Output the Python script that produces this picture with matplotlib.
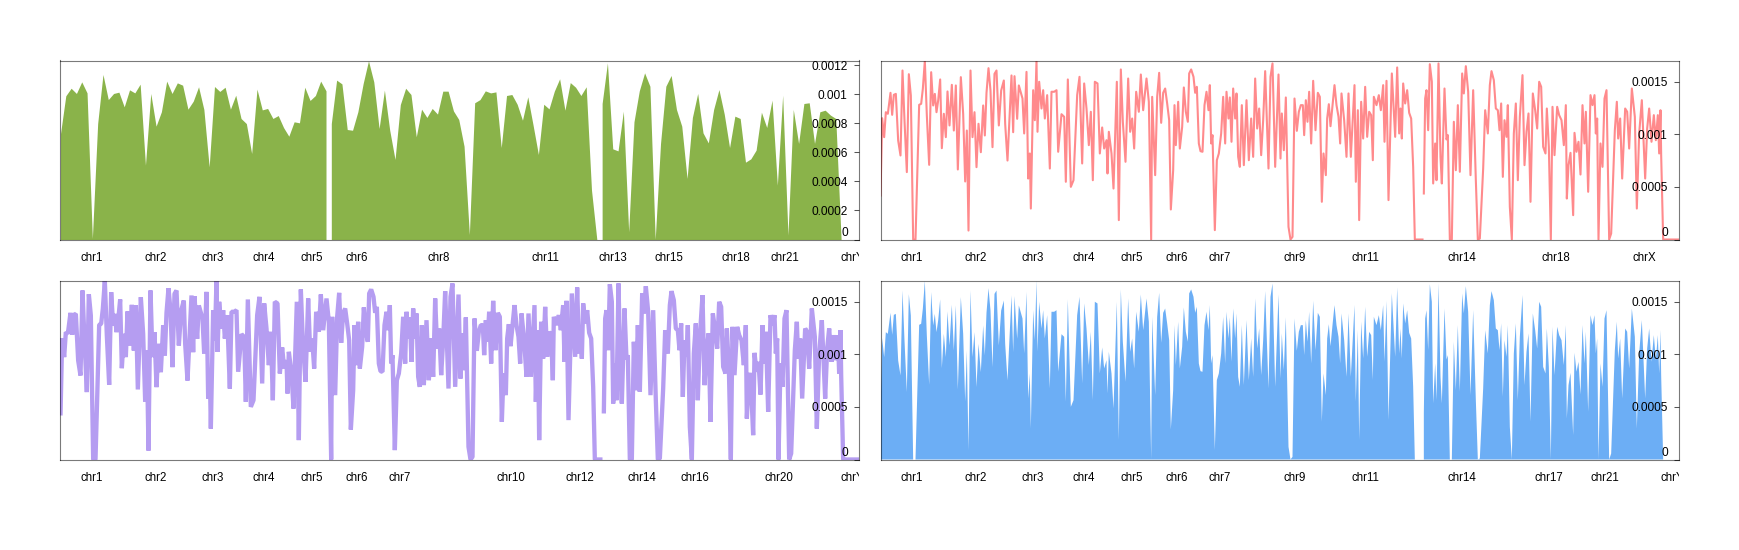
import numpy as np
import matplotlib
matplotlib.use("Agg")
import matplotlib.pyplot as plt
from matplotlib.transforms import Bbox, TransformedBbox

plt.rcParams['font.family'] = ['Liberation Sans', 'DejaVu Sans']

# ---- data: positions are genome bins along a 0..2397 axis, values are per-bin fractions (x 1e-6)
GENOME_END = 2397
BIN_COARSE = 15.93

coarse_a = [729,989,1041,1005,1085,1009,7,798,1136,963,1005,1014,913,1030,1009,1069,512,1005,780,879,
            1090,1005,1078,1062,897,952,1051,895,500,1053,1019,1048,897,993,833,798,592,1035,892,902,
            833,853,771,711,810,803,1048,957,991,1090,1023]
coarse_b = [798,1097,1071,757,752,879,1074,1230,1085,764,1028,752,551,929,1041,998,707,897,840,902,
            863,1021,1021,885,826,642,34,941,963,1023,1009,1016,633,991,998,931,821,982,787,585,
            931,899,1021,1106,890,1080,1048,991,1051,340,2]
coarse_c = [936,1216,624,610,883,53,810,1023,1147,1055,2,661,1055,1129,895,780,420,840,1005,734,
            665,895,1032,863,633,849,833,532,555,615,876,771,959,374,993,30,895,661,936,941,
            661,879,890,856,833,7]

pos_a = [0,5,11,16,22,30,35,40,46,53,60,66,72,79,85,91,98,105,111,116,122,127,133,139,146,152,158,163,168,173,
         179,184,190,196,201,207,214,220,226,232,241,248,254,259,264,270,276,282,288,294,301,308,313,318,324,330,336,342,348,355,
         362,370,374,381,393,398,402,410,415]
val_a = [418,1152,972,1209,1194,1393,1184,1374,1383,940,798,1605,1130,640,1570,1368,0,0,703,1279,1289,1431,1697,1178,709,1589,1273,1383,1209,1320,
         1520,867,1194,972,1406,1083,1469,1035,1463,665,1542,1194,551,1035,85,1605,972,1209,687,1099,829,1273,988,1393,1627,1415,877,1573,1605,1083,
         1415,1510,1099,750,1558,1019,1551,1146,1463]

pos_b = [426,431,438,443,448,451,458,463,468,471,476,483,488,493,500,508,513,521,528,533,
         543,551,556,562,571,579,590,597,605,611,618,625,631,637,643,651,658,665,671,678,
         681,685,693,699,709,715,721,727,735,743,749,755,761,767,775,781,788,798,805]
val_b = [1339,1007,1592,579,817,294,1418,1133,1700,1023,1498,1244,1418,1149,1371,674,1403,1403,1418,833,
         1190,1165,548,1520,500,563,1371,1545,722,1482,1244,896,1213,563,1498,1482,817,1064,864,943,
         627,1023,817,484,1498,184,1615,1118,738,1529,1023,1149,864,1403,1213,1567,1228,1529,1308]

step_c_x = [4,7,16,22,28,34,40,46,52,58,63,70,74,78,85,90,97,102,108,114,118,124,131,136,141,147,152,158,164,170,
            176,180,184,188,195,201,207,214,220,226,230,236,240,245,250,256,260,265,270,276,282,290,297,304,310,316,322,328,334,340,
            346,356,362,368,376,386,392,396,402,408,416,422,428,434,441,447,453,459,463,468,473,478,484,490,497,504,510,516,521,528,
            532,537,542,548,554,560,566,571,575,583,590,596,603,614,618,624,628,634,640,646,652,658,664,669,672,680,687,693,700,704,
            710,716,726,736,742,748,752,756,760,766,772,778,784,790,795,800,806,812,818,820,822,826,830,835,840,846,850,856,860,866,
            872,876,884,890,894,900,906,912,918,924,930,937,942,948,955,962,970,978,984,990,1000,1006,1014,1020,1025,1032,1038,1044,1049,1054,
            1059,1064,1070,1074,1080,1086,1092,1098,1104,1110,1118,1124,1130,1136]
val_c = [0,1355,611,1355,1583,1108,1393,1434,1292,1133,285,658,1276,896,1308,864,1070,1444,1213,1118,1577,1615,1545,1393,1450,912,839,833,1276,1403,
         1228,1466,912,991,89,753,817,1007,1355,912,1403,1149,1349,928,1434,1149,1387,785,690,1276,706,1323,753,1149,785,1529,1054,1244,801,1133,
         1599,674,1545,1672,690,1567,769,1197,848,1349,120,0,25,1339,1032,1213,1276,1276,991,1323,1118,1403,912,1507,1038,1393,1355,358,817,611,
         1149,1285,1076,1276,1466,1276,1165,912,1387,1133,785,1387,785,1466,548,1228,184,1308,959,1450,975,1213,1181,753,1355,1276,1371,1228,1466,928,
         1507,374,1577,975,1634,1007,1244,959,1482,1292,1418,1203,1149,690,0,0,0,0,0,np.nan,437,1339,1418,1038,1665,1498,532,912,563,1672,
         785,532,1434,950,991,0,0,1118,658,1276,643,1577,1387,1646,1403,611,1418,563,0,9,674,1228,1007,1466,1599,1513,1244,1228,1038,1292,
         595,1133,975,1276,310,0,1007,1292,563,1165,1561,706,1023,1197]
OFFSET_C = 808

step_d_x = [92,99,106,112,118,124,130,137,141,147,153,158,164,172,178,185,192,198,201,206,212,220,224,230,236,242,248,254,258,265,
            272,278,284,288,292,296,302,308,314,320,328,334,345,351,355,361,367,376,382,388,396,405,411,418,426,436,442,448,455,462,
            468,474,478,482,484,490,539]
val_d = [358,1387,1228,1054,1498,1450,880,817,1244,880,0,1260,801,1260,1181,1133,896,1276,389,706,823,231,1013,833,928,617,1276,912,1213,453,
         1371,1276,1371,1007,1149,0,912,690,1339,1418,0,57,1038,1308,959,1149,579,1244,1213,864,1434,1165,294,1007,1323,579,1054,1244,928,1181,
         943,1181,817,1228,801,0,0]
OFFSET_D = 1858

ticks_tl = ['chr1','chr2','chr3','chr4','chr5','chr6','chr8','chr11','chr13','chr15','chr18','chr21','chrY']
ticks_tr = ['chr1','chr2','chr3','chr4','chr5','chr6','chr7','chr9','chr11','chr14','chr18','chrX']
ticks_bl = ['chr1','chr2','chr3','chr4','chr5','chr6','chr7','chr10','chr12','chr14','chr16','chr20','chrY']
ticks_br = ['chr1','chr2','chr3','chr4','chr5','chr6','chr7','chr9','chr11','chr14','chr17','chr21','chrY']
chrom_names = ['chr1','chr2','chr3','chr4','chr5','chr6','chr7','chr8','chr9','chr10','chr11','chr12','chr13',
               'chr14','chr15','chr16','chr17','chr18','chr20','chr21','chrX','chrY']
chrom_pos = [94,285,456,609,753,890,1019,1136,1242,1352,1455,1558,1656,1743,1824,1902,2004,2027,2154,2172,2292,2374]

ticks_small = [0,0.0002,0.0004,0.0006,0.0008,0.001,0.0012]
labels_small = ['0','0.0002','0.0004','0.0006','0.0008','0.001','0.0012']
ticks_large = [0,0.0005,0.001,0.0015]
labels_large = ['0','0.0005','0.001','0.0015']

GREEN, RED, PURPLE, BLUE = '#8AB34A', '#FF8A8C', '#B59DF1', '#6CAEF5'
SPINE = (0, 0, 0, 0.52)

# ---- assemble
fine_pos = np.array(pos_a + pos_b + [x + OFFSET_C for x in step_c_x] + [x + OFFSET_D for x in step_d_x], float)
fine_val = np.array(val_a + val_b + val_c + val_d, float) * 1e-6

fig = plt.figure(figsize=(17.4, 5.5), dpi=100)
W, H = 1740., 550.

def make_ax(l, t, r, b, ymax, yt, yl, xt):
    ax = fig.add_axes([l/W, 1-b/H, (r-l)/W, (b-t)/H])
    ax.set_xlim(0, GENOME_END)
    ax.set_ylim(0, ymax)
    ax.set_axisbelow(False)
    ax.yaxis.tick_right()
    ax.set_yticks(yt)
    ax.set_yticklabels(yl)
    ax.tick_params(axis='y', direction='in', length=3.6, width=0.75, color='#555555',
                   pad=-8.5, labelsize=8.6, labelcolor='black')
    ax.set_xticks([chrom_pos[chrom_names.index(n)] for n in xt])
    ax.set_xticklabels(xt)
    ax.tick_params(axis='x', length=0, pad=8.8, labelsize=8.3, labelcolor='black')
    clip = TransformedBbox(Bbox([[0, -1], [1, 1]]), ax.transAxes)
    for lab in ax.get_xticklabels():
        lab.set_clip_box(clip)
        lab.set_clip_on(True)
    fig.canvas.draw()
    for tick in ax.yaxis.get_major_ticks():
        tick.label2.set_ha('right')
    ax.yaxis.get_major_ticks()[0].label2.set_va('bottom')
    for s in ax.spines.values():
        s.set_color(SPINE)
        s.set_linewidth(0.8)
        s.set_zorder(5)
    return ax

# top-left: coarse area
ax1 = make_ax(60.5, 60.5, 859.5, 239.5, 0.001232, ticks_small, labels_small, ticks_tl)
start = 0
for seg in (coarse_a, coarse_b, coarse_c):
    xs = (np.arange(len(seg)) + start) * BIN_COARSE
    ax1.fill_between(xs, np.array(seg) * 1e-6, 0, color=GREEN, lw=0)
    start += len(seg)

# top-right: thin line
ax2 = make_ax(880.5, 60.5, 1679.5, 239.5, 0.0017, ticks_large, labels_large, ticks_tr)
ax2.plot(fine_pos, fine_val, color=RED, lw=1.5, solid_joinstyle='round')

# bottom-left: thick line
ax3 = make_ax(60.5, 280.5, 859.5, 459.5, 0.0017, ticks_large, labels_large, ticks_bl)
ax3.plot(fine_pos, fine_val, color=PURPLE, lw=3.1, solid_joinstyle='bevel', solid_capstyle='butt')

# bottom-right: fine area
ax4 = make_ax(880.5, 280.5, 1679.5, 459.5, 0.0017, ticks_large, labels_large, ticks_br)
ax4.fill_between(fine_pos, fine_val, 0, color=BLUE, lw=0)

fig.savefig('out.png', dpi=100, facecolor='white')
